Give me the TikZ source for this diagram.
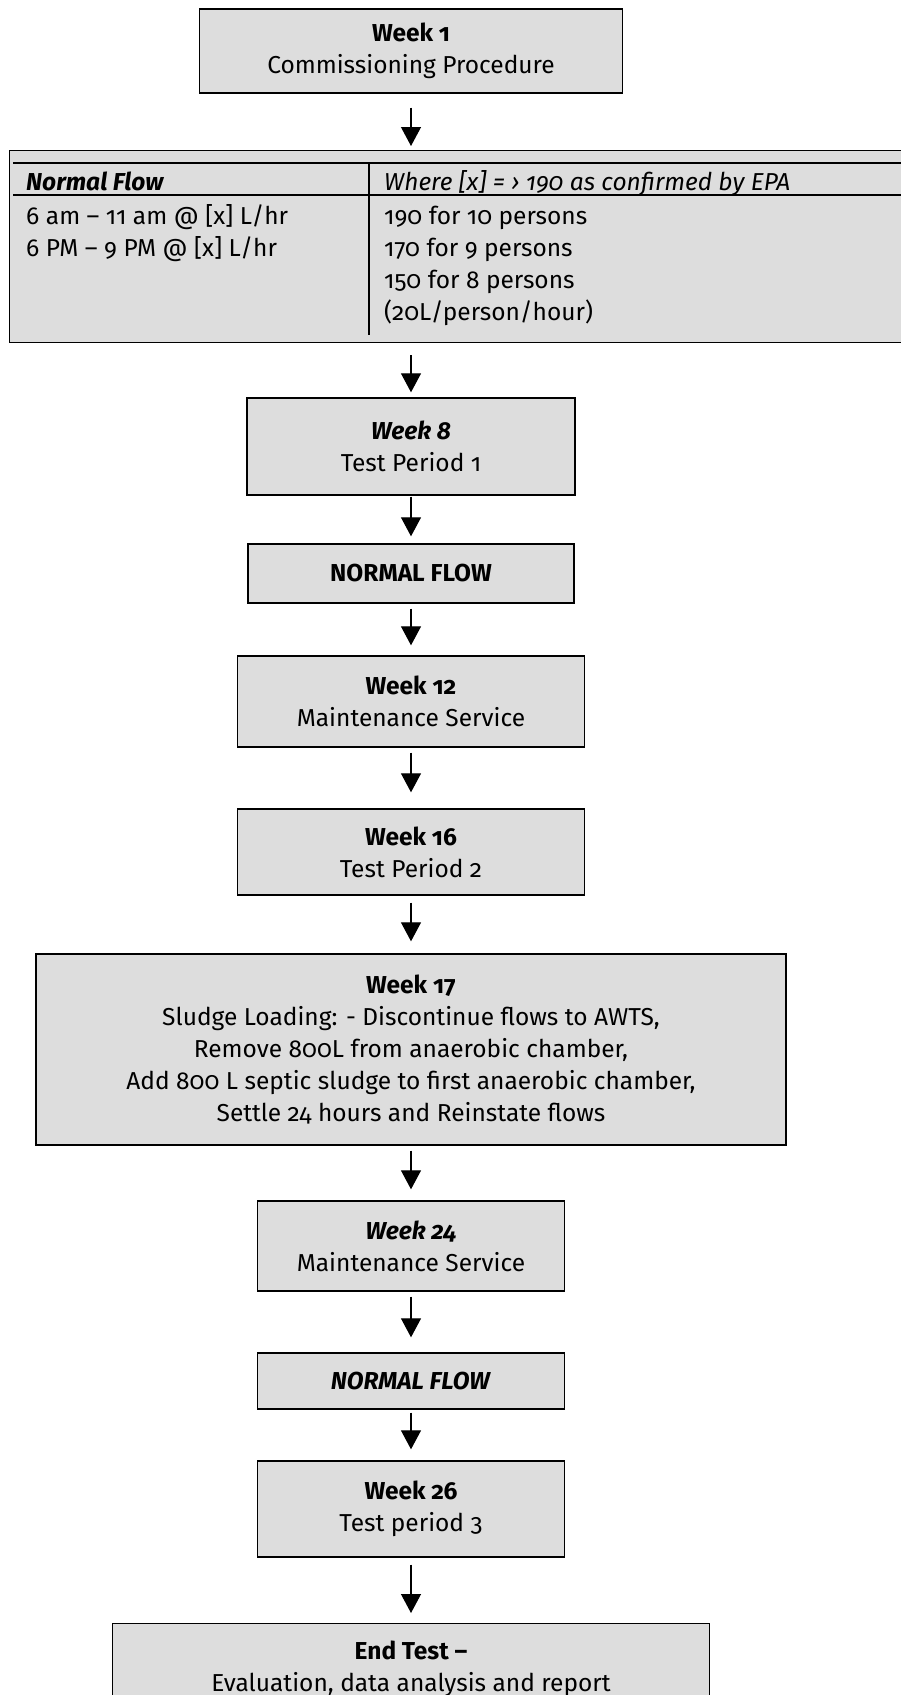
\documentclass[tikz,border=0pt]{standalone}
\usepackage{fontspec}
\setmainfont{Fira Sans}[Numbers=OldStyle]
\usetikzlibrary{arrows.meta}
\definecolor{boxgray}{RGB}{221,221,221}

\tikzset{
  stage/.style={draw, line width=1.4pt, fill=boxgray, align=center, inner sep=0pt,
    font=\fontsize{24.5}{32}\selectfont},
  cell/.style={anchor=base west, inner sep=0pt, font=\fontsize{24.5}{32}\selectfont},
  tblrule/.style={line width=2.6pt},
  flow/.style={-{Triangle[width=20pt,length=19pt]}, line width=1.2pt,
    shorten <=5pt, shorten >=10pt},
}

\begin{document}
\begin{tikzpicture}[x=1pt, y=-1pt]
    \useasboundingbox (0,0) rectangle (901,1695);
    \node[stage, minimum width=423pt, minimum height=84pt] (w1) at (411,51) {\textbf{Week 1}\\Commissioning Procedure};
    \node[stage, anchor=north west, minimum width=921pt, minimum height=192pt] (tbl) at (9,150) {};
    \draw[tblrule] (13,163) -- (930,163);
    \draw[tblrule] (13,195) -- (930,195);
    \draw[tblrule] (369,163) -- (369,335);
    \node[cell] (hl) at (26,190.5) {\textbf{\textit{Normal Flow}}};
    \node[cell] (hr) at (384,190.5) {\textit{Where [x] = › 190 as confirmed by EPA}};
    \node[cell] (l1) at (26,224.5) {6 am – 11 am @ [x] L/hr};
    \node[cell] (l2) at (26,256.5) {6 PM – 9 PM @ [x] L/hr};
    \node[cell] (r1) at (384,224.5) {190 for 10 persons};
    \node[cell] (r2) at (384,256.5) {170 for 9 persons};
    \node[cell] (r3) at (384,288.5) {150 for 8 persons};
    \node[cell] (r4) at (384,320) {(20L/person/hour)};
    \node[stage, minimum width=328pt, minimum height=97pt] (w8) at (411,446.5) {\textbf{\textit{Week 8}}\\Test Period 1};
    \node[stage, minimum width=326pt, minimum height=59pt] (nf1) at (411,573.5) {\textbf{NORMAL FLOW}};
    \node[stage, minimum width=347pt, minimum height=91pt] (w12) at (411,701.5) {\textbf{Week 12}\\Maintenance Service};
    \node[stage, minimum width=347pt, minimum height=86pt] (w16) at (411,852) {\textbf{Week 16}\\Test Period 2};
    \node[stage, minimum width=750pt, minimum height=191pt] (w17) at (411,1049.5) {\textbf{Week 17}\\Sludge Loading: - Discontinue flows to AWTS,\\Remove 800L from anaerobic chamber,\\Add 800 L septic sludge to first anaerobic chamber,\\Settle 24 hours and Reinstate flows};
    \node[stage, minimum width=307pt, minimum height=90pt] (w24) at (411,1246) {\textbf{\textit{Week 24}}\\Maintenance Service};
    \node[stage, minimum width=307pt, minimum height=56pt] (nf2) at (411,1381) {\textbf{\textit{NORMAL FLOW}}};
    \node[stage, minimum width=307pt, minimum height=96pt] (w26) at (411,1509) {\textbf{Week 26}\\Test period 3};
    \node[stage, anchor=north, minimum width=597pt, minimum height=90pt] (end) at (411,1623) {\textbf{End Test –}\\Evaluation, data analysis and report};
    \draw[flow, shorten <=14pt, shorten >=4pt] (w1.south) -- (w1.south |- tbl.north);
    \draw[flow, shorten <=12pt, shorten >=5pt] (w1.south |- tbl.south) -- (w8.north);
    \draw[flow, shorten <=1pt, shorten >=7pt] (w8) -- (nf1);
    \draw[flow] (nf1) -- (w12);
    \draw[flow, shorten >=16pt] (w12) -- (w16);
    \draw[flow, shorten <=7pt, shorten >=12pt] (w16) -- (w17);
    \draw[flow, shorten >=11pt] (w17) -- (w24);
    \draw[flow, shorten >=15pt] (w24) -- (nf2);
    \draw[flow, shorten <=3pt, shorten >=11pt] (nf2) -- (w26);
    \draw[flow, shorten <=7pt] (w26) -- (end);
\end{tikzpicture}
\end{document}
